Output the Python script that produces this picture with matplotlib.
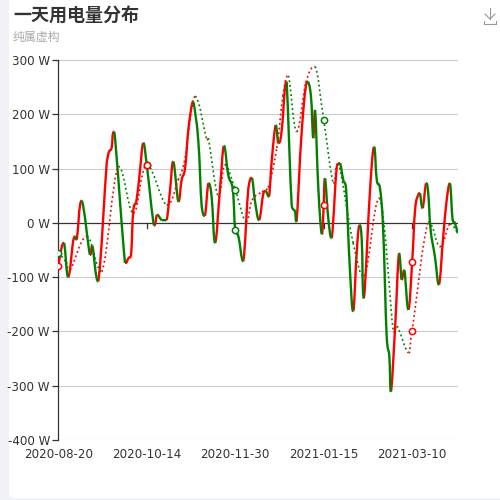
import matplotlib.pyplot as plt
from matplotlib.path import Path
from matplotlib.patches import PathPatch, FancyBboxPatch
from matplotlib.lines import Line2D

RED = "#ff0000"
GREEN = "#008000"
CJK = ["Noto Sans CJK SC", "DejaVu Sans"]

TITLE = "一天用电量分布"
SUBTITLE = "纯属虚构"

# category positions of the axis labels (every 33rd trading day)
LABEL_IDX = [0, 33, 66, 99, 132]
DATE_LABELS = ["2020-08-20", "2020-10-14", "2020-11-30", "2021-01-15", "2021-03-10"]
N_CATEGORIES = 150

# solid series (category index, watts)
SOLID_IDX = [0, 1.3, 2.2, 3.7, 5.6, 6.2, 6.9, 8.7, 11.8, 12.7, 14.9, 18.1, 18.9, 19.9, 20.9,
             24.9, 26.1, 27.1, 28, 29.2, 30.5, 31.7, 33, 35.7, 36.9, 38.6, 40.4, 41.7, 42.9,
             44.8, 46, 47.3, 48.5, 49.8, 50.4, 52.2, 53.5, 54.7, 56, 57.2, 58.5, 60.3, 61.8,
             63.4, 65.1, 66, 67.2, 69, 70.9, 72.2, 73.4, 74.9, 76.5, 77.4, 78.6, 79.6, 81.1,
             82.1, 83.3, 84.6, 85.2, 87.1, 88.3, 88.9, 90.8, 92.7, 94.2, 95.1, 95.8, 97, 98.3,
             99, 99.5, 100.7, 102, 103.9, 105.1, 106.3, 107.3, 108.8, 110, 111.3, 112.3, 113.2,
             114, 116.3, 117.8, 118.8, 120, 121.2, 122.5, 123.5, 124.1, 125.6, 127.1, 128.1,
             129.1, 130.6, 132, 133.1, 134.3, 134.9, 135.9, 137.2, 138, 138.9, 140.5, 142,
             143.6, 144.9, 146.1, 147.1, 148, 149]
SOLID_VAL = [-80, -44, -37, -100, -31, -25, -31, 41, -59, -42, -108, 113, 131, 138, 168,
             -74, -65, -62, 24, 42, 98, 147, 107, -5, 15, 5, 5, 61, 113,
             39, 79, 101, 171, 217, 223, 153, 30, 13, 73, 48, -37, 61, 142,
             88, 61, -14, -25, -71, 64, 83, 39, 5, 55, 59, 48, 113, 180,
             147, 168, 251, 260, 30, 21, 2, 168, 260, 236, 156, 208, 64, -21,
             32, 82, 9, -28, 104, 110, 79, 67, -87, -163, -56, -4, -31,
             -139, 61, 140, 79, 64, -13, -209, -246, -311, -197, -56, -105,
             -87, -160, -73, 24, 52, 55, 27, 73, 55, -13, -62, -114,
             -25, 42, 73, 5, -1, -19]

# dotted series
DOTTED_IDX = [0, 2.9, 4.4, 10.6, 16.2, 22.4, 28, 33, 40.4, 44.7, 47.3, 51, 55.4, 56, 59.7,
              62.2, 66, 70, 72.3, 76, 78.3, 81.5, 83.8, 85.8, 88.9, 92.4, 95.8, 99, 102.6,
              104.5, 110, 114.2, 119.8, 125, 126.4, 130.6, 132, 138, 142.4, 146.1, 149]
DOTTED_VAL = [-55, -72, -87, -25, -90, 104, 18, 107, 33, 79, 120, 233, 153, 156, 48,
              107, 61, 2, 42, 57, 65, 138, 234, 271, 168, 259, 288, 190, 73,
              110, -37, -98, 46, -201, -190, -239, -199, 2, -44, -2, -19]


def colored_smooth_paths(xs, ys, s=0.2):
    """Monotone-ish bezier pieces, split into rising and falling segments."""
    up_verts, up_codes, down_verts, down_codes = [], [], [], []
    n = len(xs)
    for i in range(n - 1):
        x0, y0 = xs[max(i - 1, 0)], ys[max(i - 1, 0)]
        x1, y1 = xs[i], ys[i]
        x2, y2 = xs[i + 1], ys[i + 1]
        x3, y3 = xs[min(i + 2, n - 1)], ys[min(i + 2, n - 1)]
        lo, hi = min(y1, y2), max(y1, y2)
        c1x = min(max(x1 + s * (x2 - x0), x1), x2)
        c1y = min(max(y1 + s * (y2 - y0), lo), hi)
        c2x = min(max(x2 - s * (x3 - x1), x1), x2)
        c2y = min(max(y2 - s * (y3 - y1), lo), hi)
        verts = [(x1, y1), (c1x, c1y), (c2x, c2y), (x2, y2)]
        codes = [Path.MOVETO, Path.CURVE4, Path.CURVE4, Path.CURVE4]
        if y2 > y1:
            up_verts += verts
            up_codes += codes
        else:
            down_verts += verts
            down_codes += codes
    return Path(up_verts, up_codes), Path(down_verts, down_codes)


def draw_series(ax, xs, ys, lw, ls, z):
    up, down = colored_smooth_paths(xs, ys)
    for path, color in [(up, RED), (down, GREEN)]:
        ax.add_patch(PathPatch(path, fill=False, edgecolor=color, lw=lw, linestyle=ls,
                               capstyle="butt", joinstyle="round", zorder=z))
    for idx in LABEL_IDX:
        k = xs.index(idx)
        prev = k - 1 if k > 0 else k + 1
        rising = (ys[k] > ys[prev]) if k > 0 else (ys[1] > ys[0])
        ax.plot(idx, ys[k], marker="o", ms=4.5, mfc="white", mew=1.1,
                mec=RED if rising else GREEN, zorder=z + 1)


fig = plt.figure(figsize=(5, 5), dpi=100)
fig.patch.set_facecolor("#f1f2f8")
fig.add_artist(FancyBboxPatch((0.018, 0.004), 1.0, 1.1, boxstyle="round,pad=0,rounding_size=0.012",
                              transform=fig.transFigure, facecolor="white", edgecolor="none", zorder=0))

ax = fig.add_axes([0.1166, 0.12, 0.7988, 0.76])
ax.set_facecolor("white")
ax.set_xlim(0, N_CATEGORIES - 1)
ax.set_ylim(-400, 300)

for v in range(-400, 301, 100):
    if v != 0:
        ax.axhline(v, color="#cccccc", lw=0.8, zorder=1)
ax.axhline(0, color="#333333", lw=0.9, zorder=2)
for idx in LABEL_IDX[1:]:
    ax.plot([idx, idx], [0, -9], color="#333333", lw=0.9, zorder=2)

draw_series(ax, SOLID_IDX, SOLID_VAL, 1.7, "-", 4)
draw_series(ax, DOTTED_IDX, DOTTED_VAL, 1.2, (0, (1.1, 1.7)), 5)

for side in ["top", "right", "bottom"]:
    ax.spines[side].set_visible(False)
ax.spines["left"].set_color("#333333")
ax.spines["left"].set_linewidth(0.9)

ax.set_yticks(range(-400, 301, 100))
ax.set_yticklabels([f"{v} W" for v in range(-400, 301, 100)])
ax.tick_params(axis="y", length=4, width=0.9, color="#333333", labelsize=8.6,
               labelcolor="#333333", pad=2)
ax.set_xticks(LABEL_IDX)
ax.set_xticklabels(DATE_LABELS)
ax.tick_params(axis="x", length=0, labelsize=8.6, labelcolor="#333333", pad=6)

fig.text(0.026, 0.970, TITLE, family=CJK, fontsize=13, fontweight="bold", color="#333333",
         va="center", ha="left")
fig.text(0.026, 0.925, SUBTITLE, family=CJK, fontsize=8.6, color="#aaaaaa",
         va="center", ha="left")

# download icon
icon = "#999999"
fig.add_artist(Line2D([0.98, 0.98], [0.985, 0.962], color=icon, lw=0.8))
fig.add_artist(Line2D([0.970, 0.98, 0.990], [0.972, 0.962, 0.972], color=icon, lw=0.8))
fig.add_artist(Line2D([0.968, 0.968, 0.992, 0.992], [0.958, 0.952, 0.952, 0.958], color=icon, lw=0.8))

fig.savefig("out.png", dpi=100)
